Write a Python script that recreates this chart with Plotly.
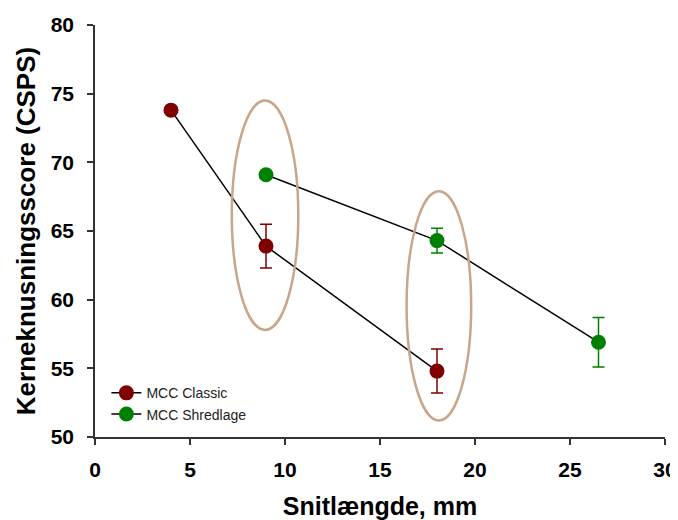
import plotly.graph_objects as go

classic_x = [4, 9, 18]
classic_y = [73.8, 63.9, 54.8]
classic_err = [0, 1.6, 1.6]

shred_x = [9, 18, 26.5]
shred_y = [69.1, 64.3, 56.9]
shred_err = [0, 0.9, 1.8]

x_ticks = [0, 5, 10, 15, 20, 25, 30]
y_ticks = [50, 55, 60, 65, 70, 75, 80]

FONT = "Liberation Sans, Arial, sans-serif"

fig = go.Figure()
fig.add_trace(go.Scatter(
    x=classic_x, y=classic_y, name="MCC Classic", mode="lines+markers",
    line=dict(color="black", width=1.5),
    marker=dict(color="#800000", size=15),
    error_y=dict(type="data", array=classic_err, visible=True, color="#800000", thickness=1.5, width=6),
))
fig.add_trace(go.Scatter(
    x=shred_x, y=shred_y, name="MCC Shredlage", mode="lines+markers",
    line=dict(color="black", width=1.5),
    marker=dict(color="#008000", size=15),
    error_y=dict(type="data", array=shred_err, visible=True, color="#008000", thickness=1.5, width=6),
))

ell_color = "#C9A58A"
fig.add_shape(type="circle", xref="x", yref="y", x0=7.2, x1=10.7, y0=57.8, y1=74.5,
              line=dict(color=ell_color, width=2.5), layer="above")
fig.add_shape(type="circle", xref="x", yref="y", x0=16.4, x1=19.8, y0=51.2, y1=67.9,
              line=dict(color=ell_color, width=2.5), layer="above")

# page body has an 8px default margin, so the figure is sized to fit the window
fig.update_layout(
    width=670, height=512,
    margin=dict(l=87, r=13, t=17, b=83),
    plot_bgcolor="white", paper_bgcolor="white",
    font=dict(family=FONT, color="black"),
    showlegend=True,
    legend=dict(x=0.02, y=0.145, xanchor="left", yanchor="top",
                font=dict(size=14, color="#222"), bgcolor="rgba(0,0,0,0)",
                tracegroupgap=0, itemwidth=30),
)
fig.update_xaxes(
    range=[0, 30], tickvals=x_ticks, ticktext=[str(v) for v in x_ticks],
    showgrid=False, zeroline=False, showline=True, linecolor="#333", linewidth=1.5,
    ticks="outside", ticklen=6, tickwidth=1.5, tickcolor="#333",
    tickfont=dict(size=21, family=FONT, weight="bold"),
    ticklabelstandoff=7, automargin=False, ticklabeloverflow="allow",
    title=dict(text="<b>Snitlængde, mm</b>", font=dict(size=25, family=FONT), standoff=18),
)
fig.update_yaxes(
    range=[50, 80], tickvals=y_ticks, ticktext=[str(v) for v in y_ticks],
    showgrid=False, zeroline=False, showline=True, linecolor="#333", linewidth=1.5,
    ticks="outside", ticklen=6, tickwidth=1.5, tickcolor="#333",
    tickfont=dict(size=21, family=FONT, weight="bold"),
    ticklabelstandoff=9, automargin=False, ticklabeloverflow="allow",
    title=dict(text="<b>Kerneknusningsscore (CSPS)</b>", font=dict(size=26, family=FONT), standoff=8),
)

fig.write_html("out.html")
